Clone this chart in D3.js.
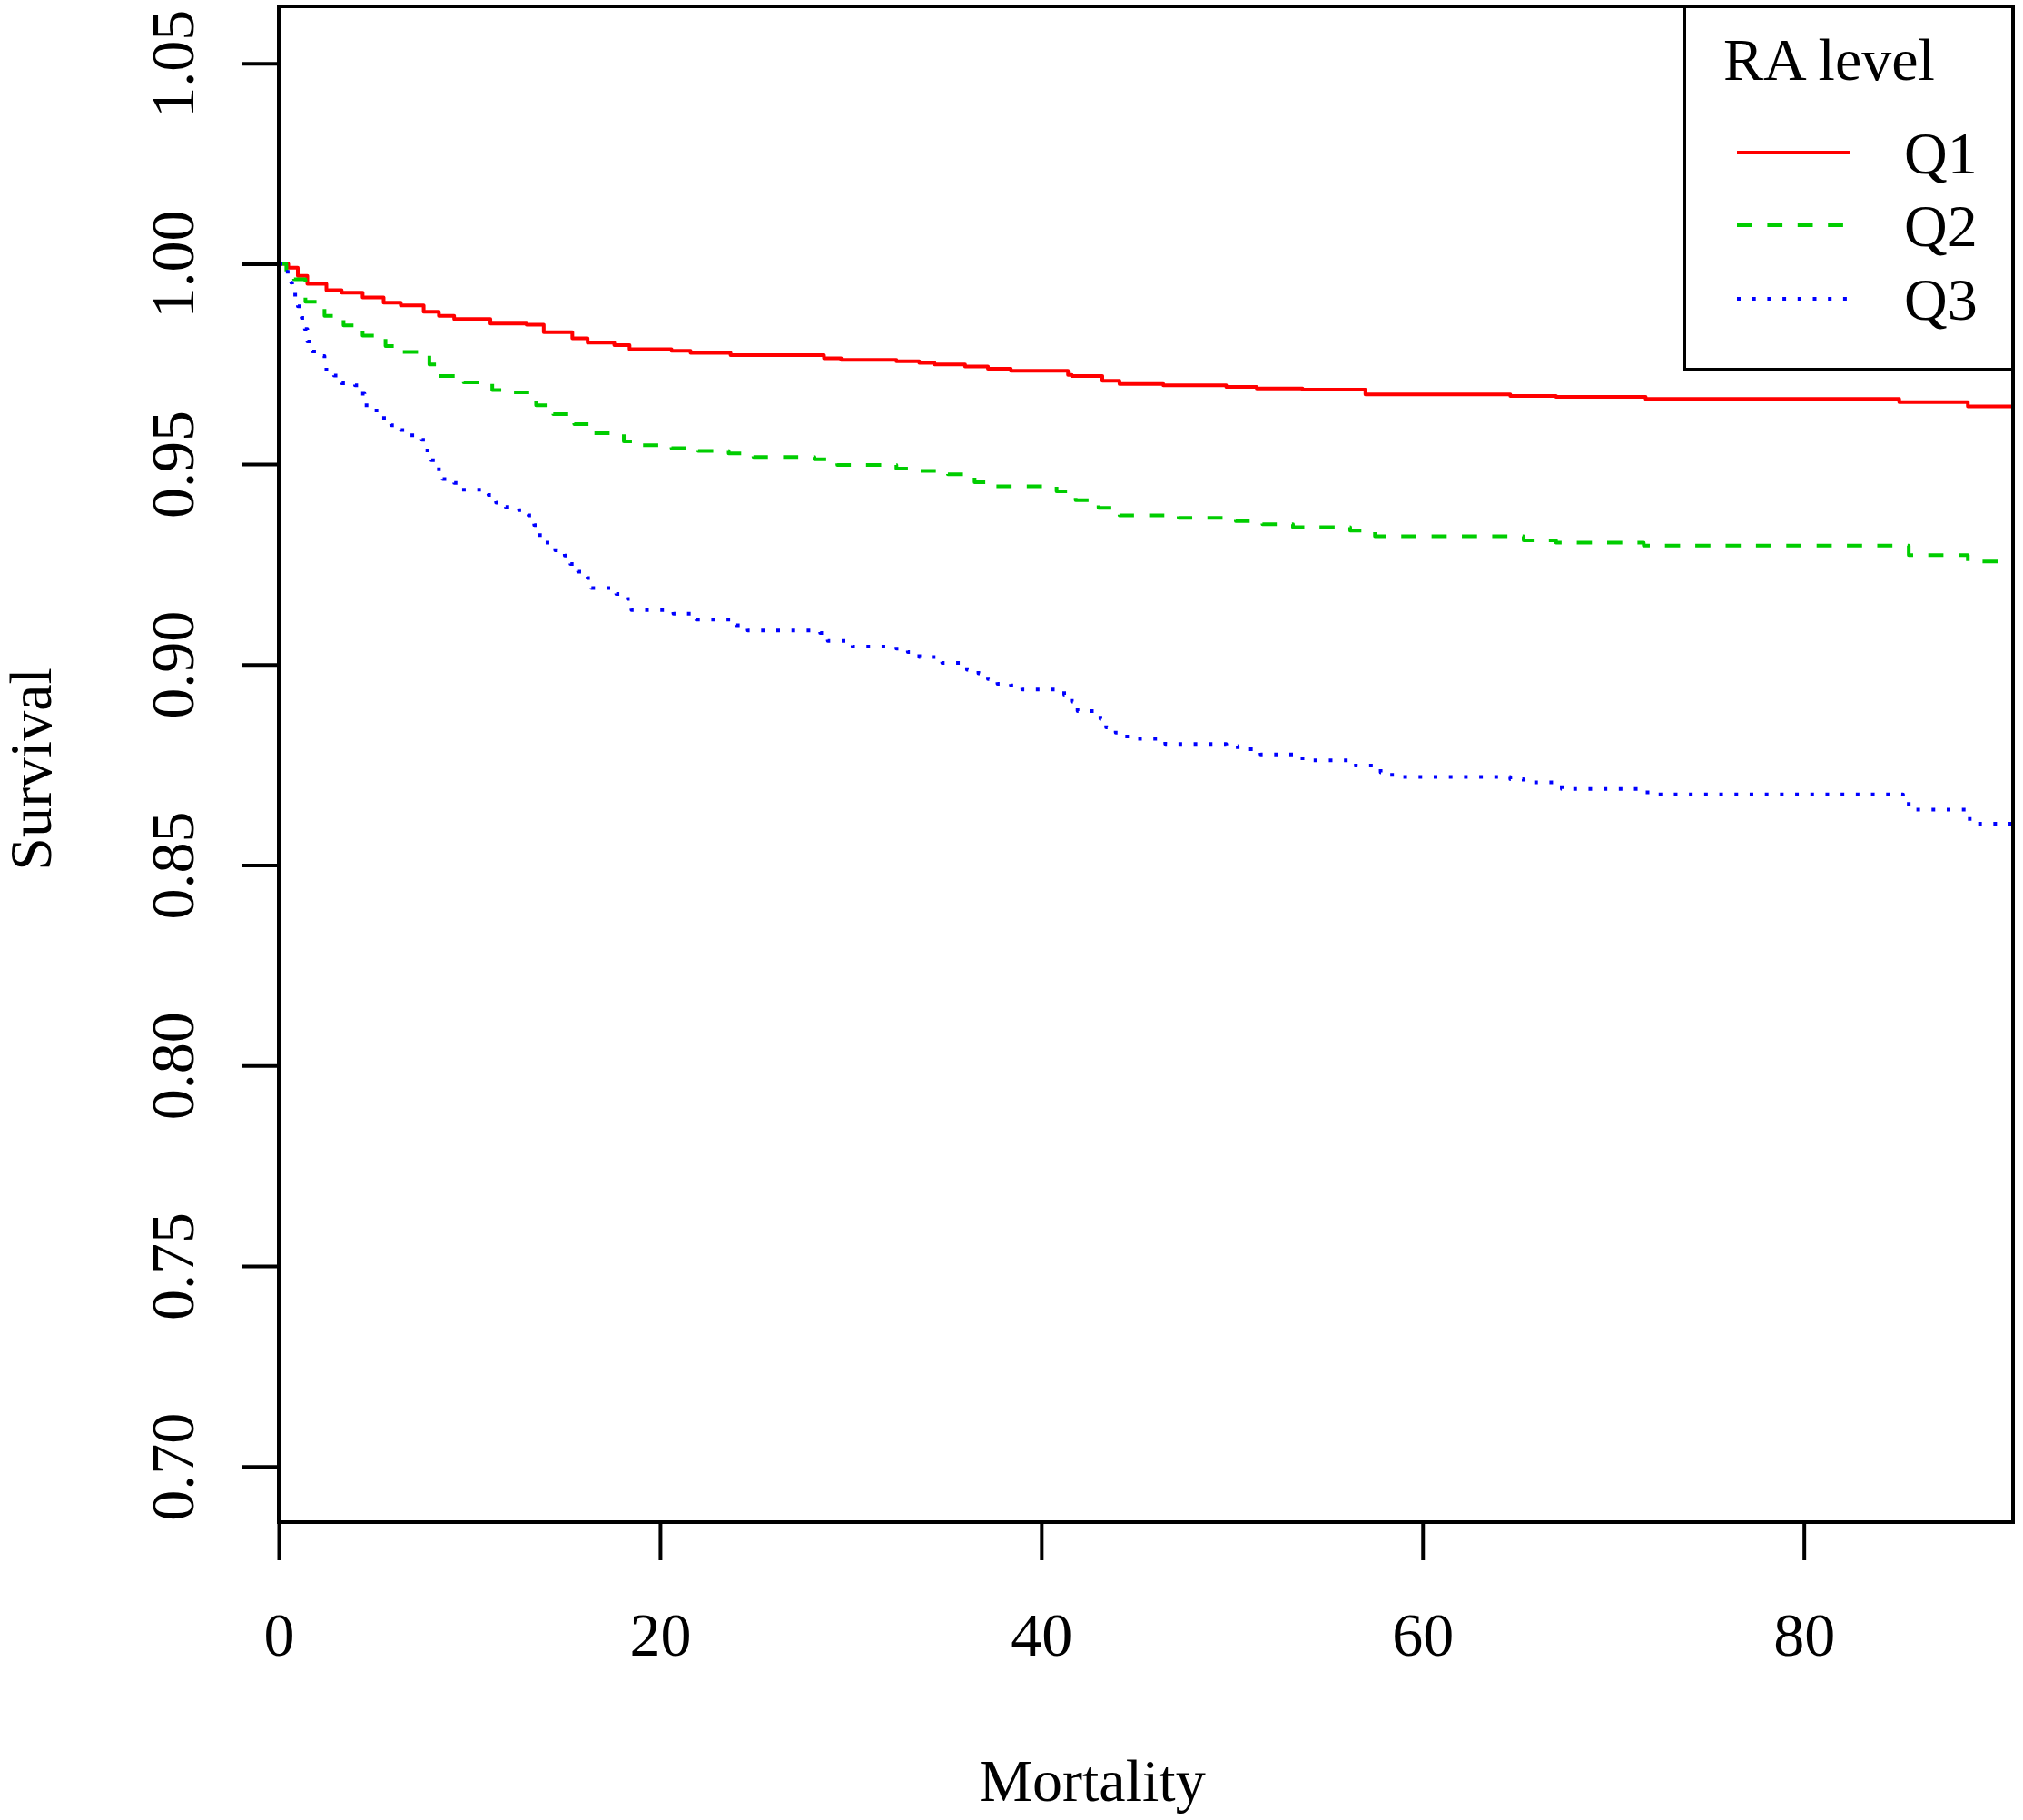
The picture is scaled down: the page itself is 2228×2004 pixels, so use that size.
<!DOCTYPE html>
<html>
<head>
<meta charset="utf-8">
<script src="https://cdn.jsdelivr.net/npm/d3@7"></script>
<style>
  html, body { margin: 0; padding: 0; background: #ffffff; }
  svg { display: block; }
  text { font-family: "Liberation Serif", "Times New Roman", serif; fill: #000; }
</style>
</head>
<body>
<script>
// ---------------- data (time, survival) ----------------
const seriesNames = ["Q1", "Q2", "Q3"];
const legendTitle = "RA level";
const xLabel = "Mortality";
const yLabel = "Survival";
const xTicks = [0, 20, 40, 60, 80];
const yTicks = [0.70, 0.75, 0.80, 0.85, 0.90, 0.95, 1.00, 1.05];

const q1 = [[0,1.0],[0.5,0.999],[1.0,0.997],[1.5,0.995],[2.5,0.9934],[3.3,0.9928],[4.4,0.9916],[5.5,0.9903],
  [6.4,0.9896],[7.6,0.988],[8.4,0.987],[9.2,0.9862],[11.1,0.9851],[13.0,0.9848],[13.9,0.9829],[15.4,0.9814],
  [16.2,0.9803],[17.6,0.9797],[18.4,0.9787],[20.6,0.9783],[21.6,0.9778],[23.7,0.9772],[28.6,0.9764],[29.5,0.976],
  [32.4,0.9757],[33.6,0.9753],[34.4,0.9749],[36.0,0.9744],[37.2,0.9738],[38.4,0.9733],[41.4,0.9723],[41.6,0.972],
  [43.2,0.9708],[44.1,0.97],[46.4,0.9697],[49.7,0.9693],[51.3,0.9689],[53.7,0.9686],[57.0,0.9674],[64.6,0.967],
  [67.0,0.9668],[71.7,0.9663],[85.0,0.9655],[88.6,0.9644],[91.0,0.9644]];

const q2 = [[0,1.0],[0.4,0.998],[0.8,0.9961],[1.4,0.9905],[2.4,0.987],[3.4,0.9846],[4.4,0.9821],[5.6,0.9795],
  [6.4,0.978],[7.9,0.9749],[8.4,0.972],[9.7,0.9704],[11.2,0.9685],[12.3,0.9679],[13.5,0.9647],[14.4,0.9625],
  [15.5,0.96],[16.5,0.9577],[18.1,0.9557],[19.0,0.9547],[20.6,0.954],[22.0,0.9533],[23.6,0.9527],[24.9,0.9518],
  [28.1,0.9512],[29.3,0.9498],[32.4,0.9489],[33.6,0.9483],[35.1,0.9475],[36.5,0.9455],[37.6,0.9445],[40.8,0.9432],
  [41.8,0.941],[43.0,0.9391],[44.1,0.9372],[47.2,0.9366],[50.2,0.9358],[51.6,0.935],[53.2,0.9343],[56.2,0.9334],
  [57.5,0.932],[65.3,0.931],[67.0,0.9304],[71.6,0.9297],[85.5,0.9273],[88.6,0.9257],[91.0,0.9257]];

const q3 = [[0,1.0],[0.3,0.998],[0.65,0.9953],[0.7,0.9923],[1.0,0.9894],[1.2,0.9865],[1.37,0.9837],[1.5,0.9806],
  [1.76,0.9781],[2.3,0.977],[2.4,0.9736],[2.9,0.9721],[3.3,0.9702],[4.0,0.9697],[4.3,0.9676],[4.5,0.9647],
  [5.0,0.9634],[5.4,0.9615],[5.9,0.9597],[6.4,0.9585],[6.9,0.9572],[7.5,0.9561],[7.7,0.9534],[8.0,0.951],
  [8.3,0.9487],[8.6,0.9463],[9.2,0.9453],[9.6,0.9436],[11.0,0.9423],[11.4,0.9404],[11.9,0.9393],[12.6,0.9385],
  [13.1,0.9372],[13.4,0.9348],[13.6,0.9323],[14.0,0.9304],[14.5,0.9285],[15.0,0.9272],[15.3,0.9251],[15.7,0.9232],
  [16.2,0.9216],[16.4,0.9191],[17.7,0.9176],[18.3,0.9164],[18.5,0.9136],[20.7,0.9127],[21.9,0.9112],[24.0,0.9098],
  [24.6,0.9085],[28.4,0.9079],[28.8,0.9059],[30.1,0.9045],[32.4,0.904],[33.0,0.9031],[33.6,0.9019],[34.8,0.9004],
  [36.1,0.8987],[36.7,0.8978],[37.2,0.8964],[37.7,0.8952],[38.4,0.8948],[39.0,0.8938],[41.2,0.8925],[41.6,0.8908],
  [41.9,0.8884],[43.1,0.8865],[43.4,0.8843],[43.9,0.883],[44.5,0.8815],[46.5,0.8802],[49.7,0.8798],[50.3,0.8789],
  [51.5,0.8776],[53.7,0.8761],[56.5,0.8748],[57.8,0.8731],[58.4,0.872],[64.6,0.8714],[65.3,0.8706],[67.3,0.869],
  [71.8,0.8676],[85.2,0.8662],[85.5,0.8638],[88.5,0.8629],[88.7,0.8603],[91.0,0.8603]];

const seriesData = [q1, q2, q3];
const seriesColors = ["#FF0000", "#00CD00", "#0000FF"];
const seriesDash = [null, "16.7,16.7", "4,12.7"];

// ---------------- layout ----------------
const W = 2228, H = 2004;
const plotL = 307, plotR = 2217, plotT = 7, plotB = 1676;
const LW = 4;

const svg = d3.select("body").append("svg").attr("width", W).attr("height", H);
svg.append("rect").attr("width", W).attr("height", H).attr("fill", "#fff");

const x = d3.scaleLinear().domain([0, 90.97]).range([plotL, plotR]);
const y = d3.scaleLinear().domain([0.6861, 1.0642]).range([plotB, plotT]);

svg.append("clipPath").attr("id", "clip").append("rect")
  .attr("x", plotL).attr("y", plotT).attr("width", plotR - plotL).attr("height", plotB - plotT);

// curves
const line = d3.line().x(d => x(d[0])).y(d => y(d[1])).curve(d3.curveStepAfter);
const gCurves = svg.append("g").attr("clip-path", "url(#clip)");
seriesData.forEach((s, i) => {
  gCurves.append("path").datum(s)
    .attr("d", line)
    .attr("fill", "none")
    .attr("stroke", seriesColors[i])
    .attr("stroke-width", LW)
    .attr("stroke-linejoin", "round")
    .attr("stroke-dasharray", seriesDash[i]);
});

// y axis
const yAxis = d3.axisLeft(y).tickValues(yTicks).tickSize(41).tickFormat(d3.format(".2f"));
const gy = svg.append("g").attr("transform", `translate(${plotL},0)`).call(yAxis);
gy.select(".domain").remove();
gy.selectAll(".tick line").attr("stroke", "#000").attr("stroke-width", LW);
gy.selectAll(".tick text")
  .attr("transform", "rotate(-90)")
  .attr("x", 0).attr("y", -94).attr("dy", null)
  .attr("text-anchor", "middle")
  .style("font-family", '"Liberation Serif", serif')
  .style("font-size", "68px");

// x axis
const xAxis = d3.axisBottom(x).tickValues(xTicks).tickSize(42).tickFormat(d3.format("d"));
const gx = svg.append("g").attr("transform", `translate(0,${plotB})`).call(xAxis);
gx.select(".domain").remove();
gx.selectAll(".tick line").attr("stroke", "#000").attr("stroke-width", LW);
gx.selectAll(".tick text")
  .attr("y", 147).attr("dy", null)
  .style("font-family", '"Liberation Serif", serif')
  .style("font-size", "68px");

// box
svg.append("rect")
  .attr("x", plotL).attr("y", plotT).attr("width", plotR - plotL).attr("height", plotB - plotT)
  .attr("fill", "none").attr("stroke", "#000").attr("stroke-width", LW);

// axis titles
svg.append("text").attr("x", 1203).attr("y", 1983).attr("text-anchor", "middle")
  .style("font-size", "66px").text(xLabel);
svg.append("text").attr("transform", "translate(56,847) rotate(-90)").attr("text-anchor", "middle")
  .style("font-size", "66px").text(yLabel);

// legend
const lg = svg.append("g");
lg.append("rect").attr("x", 1855).attr("y", plotT).attr("width", plotR - 1855).attr("height", 407 - plotT)
  .attr("fill", "#fff").attr("stroke", "#000").attr("stroke-width", LW);
lg.append("text").attr("x", 1898).attr("y", 88).style("font-size", "66px").text(legendTitle);
const legY = [168, 248, 329];
seriesNames.forEach((n, i) => {
  lg.append("line").attr("x1", 1913).attr("x2", 2037).attr("y1", legY[i]).attr("y2", legY[i])
    .attr("stroke", seriesColors[i]).attr("stroke-width", LW)
    .attr("stroke-dasharray", seriesDash[i]);
  lg.append("text").attr("x", 2097).attr("y", legY[i] + 23).style("font-size", "66px").text(n);
});
</script>
</body>
</html>
